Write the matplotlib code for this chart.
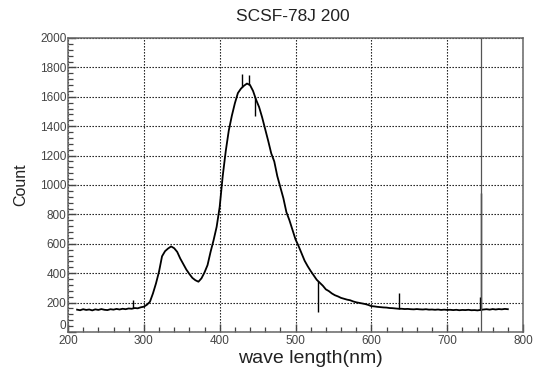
import numpy as np
import matplotlib
matplotlib.use("Agg")
import matplotlib.pyplot as plt
from matplotlib.ticker import MultipleLocator, FuncFormatter

plt.rcParams['font.family'] = ['Liberation Sans', 'DejaVu Sans']

# spectrum counts, one value every 4 nm starting at 212 nm
counts = [
    152, 148, 155, 150, 153, 147, 154, 150, 156, 151,         # 212
    149, 155, 152, 157, 153, 158, 155, 160, 158, 163,         # 252
    161, 168, 172, 185, 205, 262, 330, 410, 515, 550,         # 292
    568, 582, 570, 545, 500, 462, 425, 395, 368, 352,         # 332
    342, 365, 405, 455, 545, 625, 715, 850, 1060, 1230,       # 372
    1370, 1470, 1555, 1625, 1655, 1675, 1690, 1680, 1640, 1580,  # 412
    1530, 1460, 1380, 1300, 1215, 1160, 1060, 985, 910, 815,  # 452
    760, 695, 630, 585, 535, 485, 448, 415, 385, 355,         # 492
    335, 315, 290, 278, 262, 250, 242, 232, 226, 220,         # 532
    216, 208, 202, 198, 194, 190, 184, 176, 174, 171,         # 572
    169, 167, 166, 163, 162, 160, 158, 158, 156, 157,         # 612
    155, 154, 156, 154, 153, 155, 152, 153, 151, 153,         # 652
    150, 152, 150, 151, 149, 151, 148, 150, 149, 151,         # 692
    148, 149, 147, 150, 153, 155, 152, 156, 153, 156,         # 732
    154, 157, 155,                                            # 772
]
wavelength = np.arange(212, 212 + 4 * len(counts), 4)

# narrow spikes: position, tip and the level they rise from
spike_nm = [286, 430, 439, 447, 530, 637, 743, 745]
spike_top = [218, 1755, 1750, 1470, 138, 267, 240, 943]
spike_base = [160, 1665, 1680, 1600, 345, 158, 150, 150]

marker_nm = 744

fig = plt.figure(figsize=(5.35, 3.67), dpi=100)
ax = fig.add_axes([0.1271, 0.0954, 0.8505, 0.8011])

ax.plot(wavelength, counts, color='black', lw=1.3)
ax.vlines(spike_nm, spike_base, spike_top, color='black', lw=1.0)
ax.axvline(marker_nm, color='#555555', lw=0.9)

ax.set_xlim(200, 800)
ax.set_ylim(0, 2000)
ax.xaxis.set_major_locator(MultipleLocator(100))
ax.xaxis.set_minor_locator(MultipleLocator(20))
ax.yaxis.set_major_locator(MultipleLocator(200))
ax.yaxis.set_minor_locator(MultipleLocator(40))
# zero is written separately, raised above the corner
ax.yaxis.set_major_formatter(FuncFormatter(lambda v, p: '' if v == 0 else '%d' % v))
ax.text(-0.004, 0, '0', transform=ax.get_yaxis_transform(), ha='right',
        va='bottom', fontsize=8.5, color='#444444')

ax.grid(True, which='major', color='black', ls=(0, (1.2, 1.5)), lw=0.8)
ax.tick_params(which='both', direction='in', colors='#444444',
               labelcolor='#444444', labelsize=8.5)
ax.tick_params(axis='y', pad=1)
ax.tick_params(axis='x', pad=2)
ax.tick_params(which='major', length=6, width=1)
ax.tick_params(which='minor', length=3.5, width=0.9)
for s in ax.spines.values():
    s.set_color('#666666')
    s.set_linewidth(1.1)

ax.set_xlabel('wave length(nm)', fontsize=14, color='#222222')
ax.xaxis.set_label_coords(0.532, -0.06)
ax.set_ylabel('Count', fontsize=11.5, color='#222222')
ax.yaxis.set_label_coords(-0.088, 0.5)
fig.text(0.548, 0.955, 'SCSF-78J 200', ha='center', va='center',
         fontsize=12.5, color='#222222')

fig.savefig('out.png', dpi=100)
